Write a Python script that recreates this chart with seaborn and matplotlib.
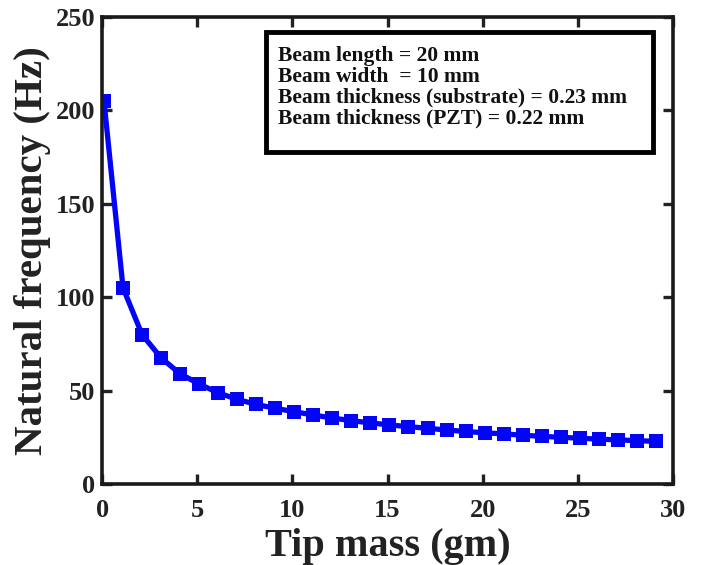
import matplotlib
matplotlib.use("Agg")
import matplotlib.pyplot as plt
import matplotlib.patches as mpatches
import seaborn as sns
import pandas as pd

tip_mass = [0.1, 1.1, 2.1, 3.1, 4.1, 5.1, 6.1, 7.1, 8.1, 9.1,
            10.1, 11.1, 12.1, 13.1, 14.1, 15.1, 16.1, 17.1, 18.1, 19.1,
            20.1, 21.1, 22.1, 23.1, 24.1, 25.1, 26.1, 27.1, 28.1, 29.1]
nat_freq = [205.0, 105.0, 80.0, 67.5, 59.0, 53.5, 48.8, 45.3, 42.6, 40.5,
            38.7, 36.9, 35.3, 33.9, 32.7, 31.6, 30.7, 29.8, 28.9, 28.1,
            27.4, 26.8, 26.1, 25.5, 25.0, 24.5, 24.0, 23.6, 23.2, 22.8]
x_ticks = [0, 5, 10, 15, 20, 25, 30]
y_ticks = [0, 50, 100, 150, 200, 250]
info_lines = ["Beam length = 20 mm",
              "Beam width  = 10 mm",
              "Beam thickness (substrate) = 0.23 mm",
              "Beam thickness (PZT) = 0.22 mm"]

df = pd.DataFrame({"m": tip_mass, "f": nat_freq})

sns.set_theme(style="white")
plt.rcParams['font.family'] = ['Liberation Serif', 'DejaVu Serif']
plt.rcParams['font.weight'] = 'bold'

fig = plt.figure(figsize=(7.04, 5.65), dpi=100)
ax = fig.add_axes([0.145, 0.1434, 0.811, 0.8266])

sns.lineplot(data=df, x="m", y="f", ax=ax, color="#0505f5", linewidth=3.8,
             marker="s", markersize=10, markeredgewidth=0, markerfacecolor="#0505f5")

ax.set_xlim(0, 30)
ax.set_ylim(0, 250)
ax.set_xticks(x_ticks)
ax.set_yticks(y_ticks)
tc = '#222222'
ax.set_xticklabels([str(t) for t in x_ticks], fontsize=19, fontweight='bold', color=tc)
ax.set_yticklabels([str(t) for t in y_ticks], fontsize=19, fontweight='bold', color=tc)
ax.tick_params(direction='in', length=7, width=2.4, top=True, right=True,
               bottom=True, left=True, color='#222222', pad=5)
ax.tick_params(axis='x', pad=11)
for s in ax.spines.values():
    s.set_linewidth(2.6)
    s.set_color('#1a1a1a')
    s.set_visible(True)

ax.set_xlabel("Tip mass (gm)", fontsize=29, fontweight='bold', color=tc, labelpad=4)
ax.set_ylabel("Natural frequency (Hz)", fontsize=29.5, fontweight='bold', color=tc, labelpad=3)

rect = mpatches.Rectangle((0.287, 0.711), 0.678, 0.257, transform=ax.transAxes,
                          facecolor='white', edgecolor='black', linewidth=3.5, zorder=5)
ax.add_patch(rect)
ax.text(0.308, 0.938, "\n".join(info_lines), transform=ax.transAxes,
        fontsize=15.5, fontweight='bold', va='top', ha='left', linespacing=1.06,
        color='#111111', zorder=6)

fig.savefig("out.png", dpi=100)
